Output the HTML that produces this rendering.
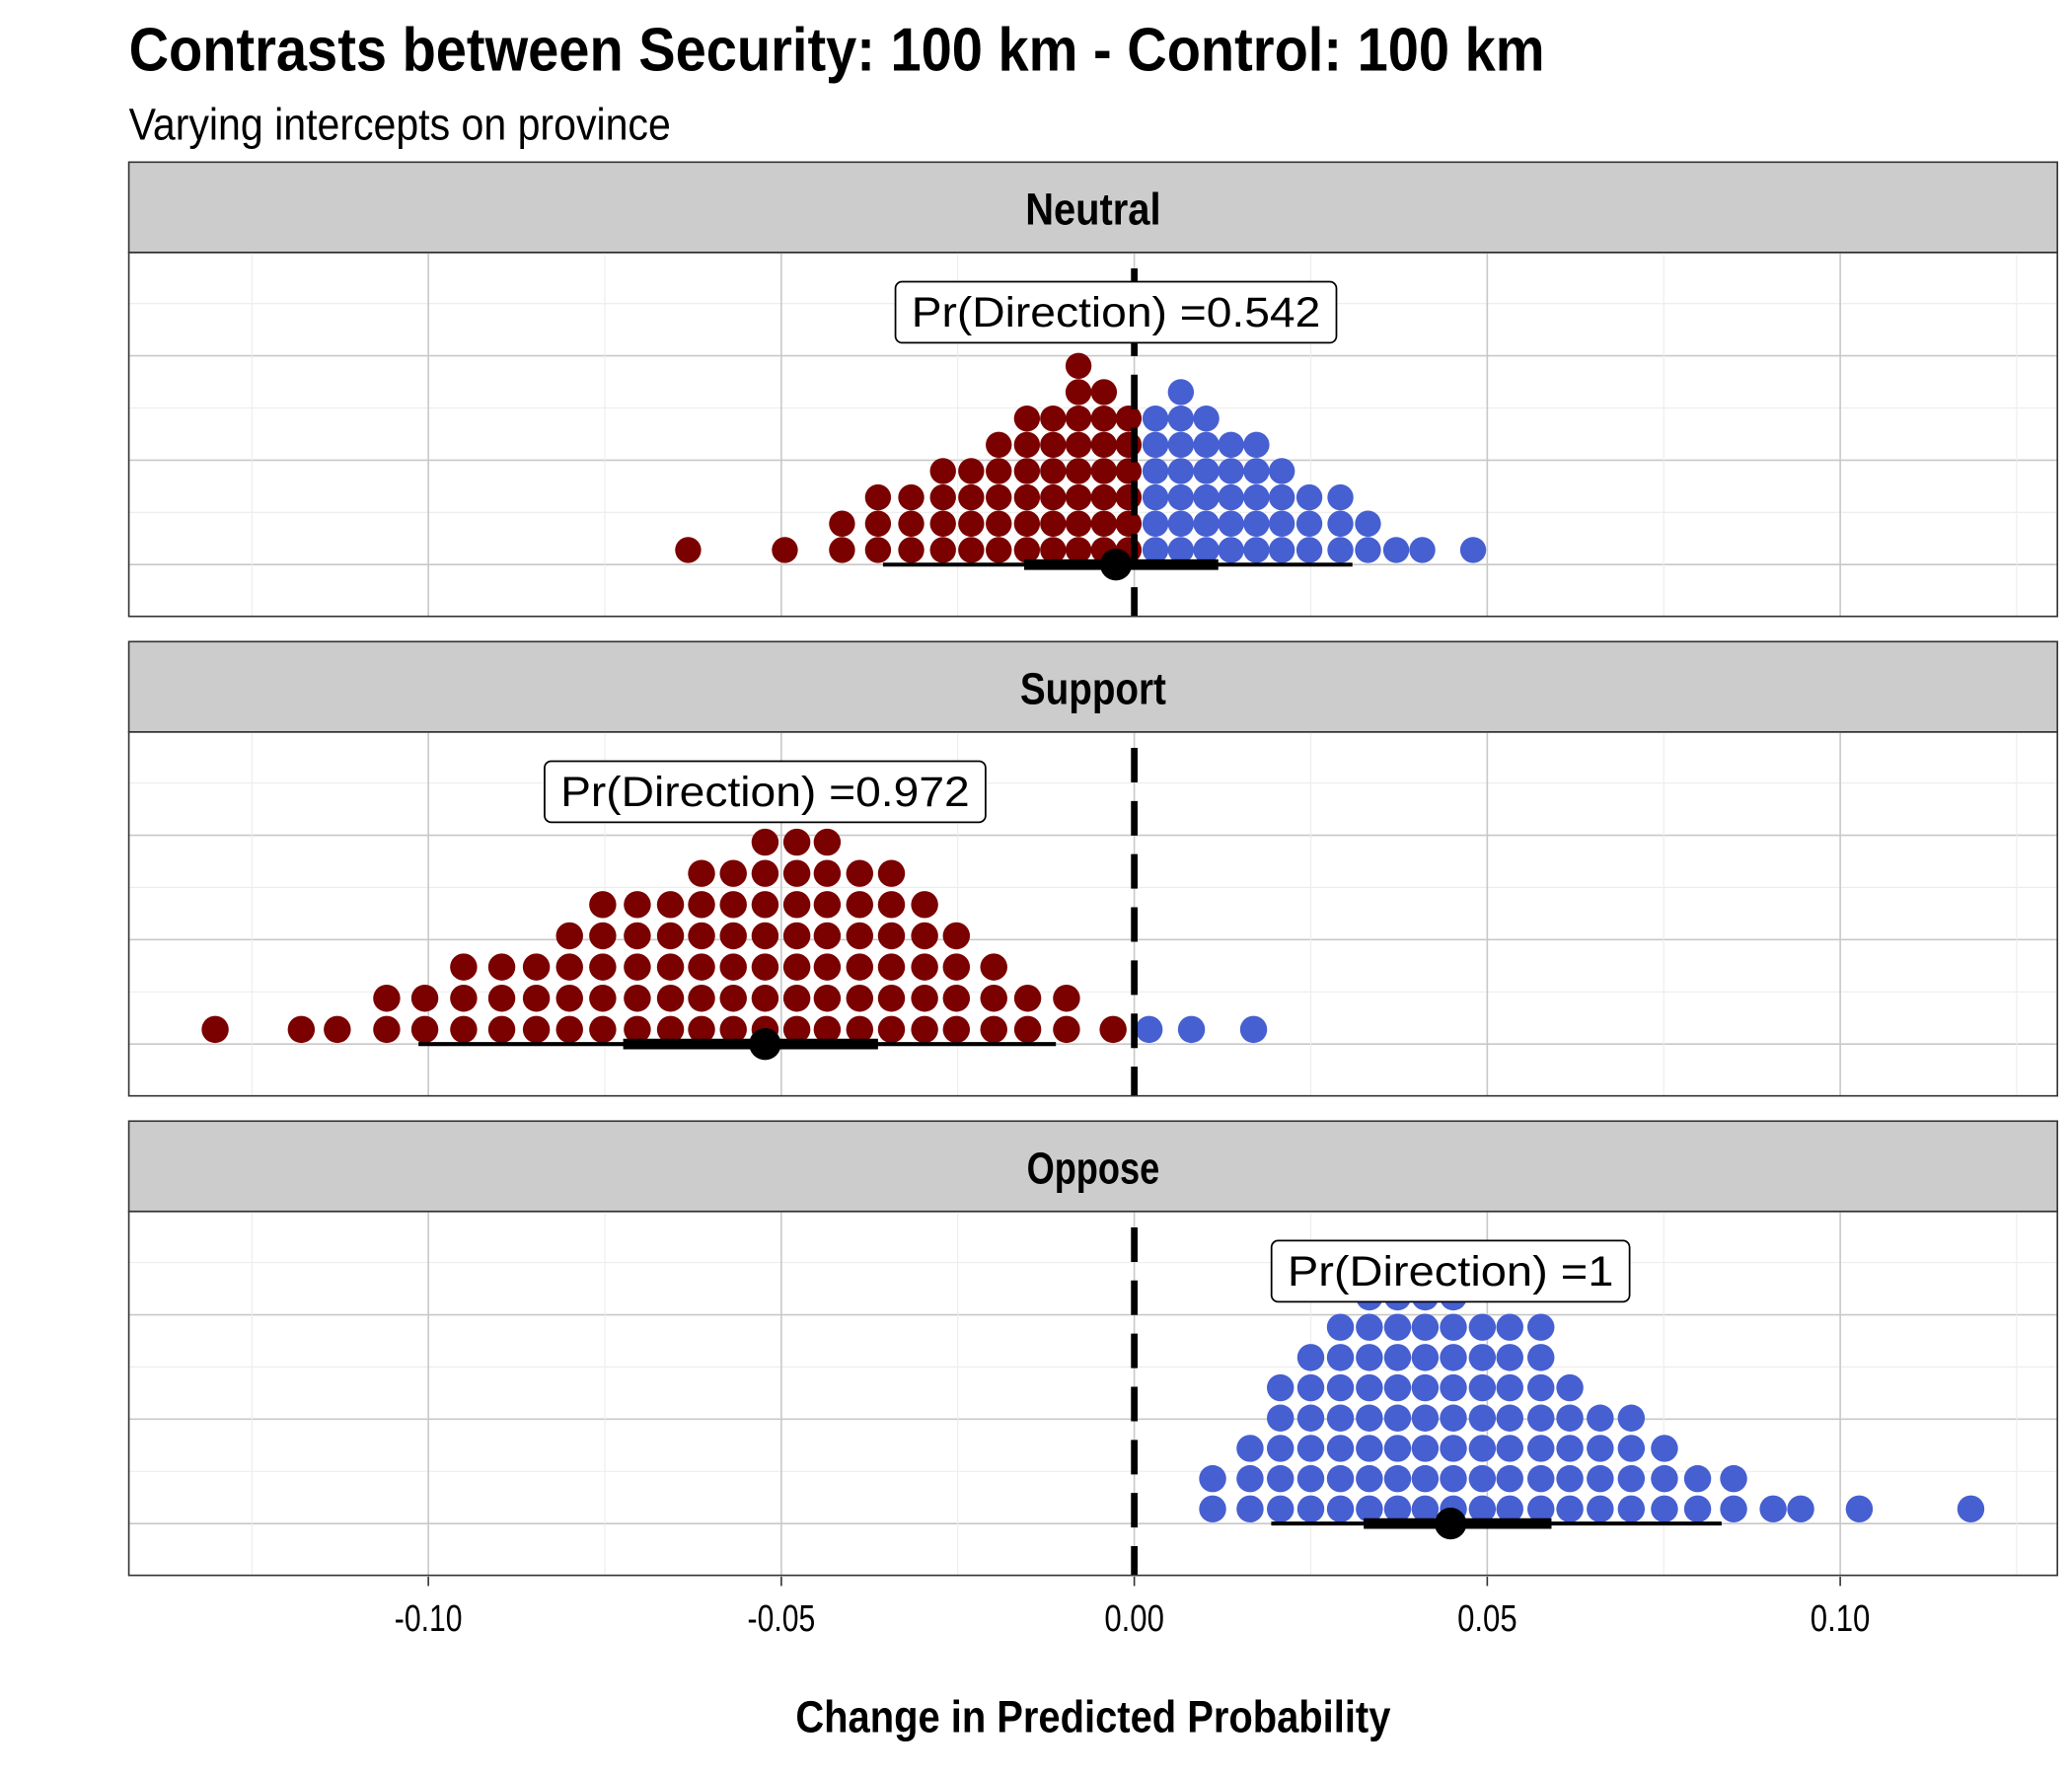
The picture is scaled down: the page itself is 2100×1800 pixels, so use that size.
<!DOCTYPE html>
<html><head><meta charset="utf-8"><style>
html,body{margin:0;padding:0;background:#fff;}
svg{display:block;}
text{font-family:"Liberation Sans",sans-serif;}
</style></head><body>
<svg id="chart" xmlns="http://www.w3.org/2000/svg" width="2100" height="1800" viewBox="0 0 1560 1337">
<rect width="1560" height="1337" fill="#fff"/>
<text x="97" y="53" font-size="46" font-weight="bold" textLength="1066" lengthAdjust="spacingAndGlyphs">Contrasts between Security: 100 km - Control: 100 km</text>
<text x="97" y="105" font-size="34" textLength="408" lengthAdjust="spacingAndGlyphs">Varying intercepts on province</text>
<g id="panels"></g>
<g id="xaxis"></g>
<text x="823" y="1304" text-anchor="middle" font-size="34" font-weight="bold" textLength="448" lengthAdjust="spacingAndGlyphs">Change in Predicted Probability</text>
</svg>
<script>
// ---- data ----
const panelNames = ["Neutral","Support","Oppose"];
const neutralValues = [-0.0632,-0.0495,-0.0414,-0.0363,-0.0316,-0.0271,-0.0231,-0.0192,-0.0152,-0.0115,-0.0079,-0.0043,-0.0008,0.0030,0.0066,0.0102,0.0137,0.0173,0.0209,0.0248,0.0292,0.0331,0.0371,0.0408,0.0480];
const neutralCounts = [1,1,2,3,3,4,4,5,6,6,8,7,6,6,7,6,5,5,4,3,3,2,1,1,1];
const supportValues = [-0.1302,-0.1180,-0.1129,-0.1059,-0.1005,-0.0950,-0.0896,-0.0847,-0.0800,-0.0753,-0.0704,-0.0657,-0.0613,-0.0568,-0.0523,-0.0478,-0.0435,-0.0389,-0.0344,-0.0297,-0.0252,-0.0199,-0.0151,-0.0096,-0.0030,0.0021,0.0081,0.0169];
const supportCounts = [1,1,1,2,2,3,3,3,4,5,5,5,6,6,7,7,7,6,6,5,4,3,2,2,1,1,1,1];
const opposeValues = [0.0111,0.0164,0.0207,0.0250,0.0292,0.0333,0.0373,0.0412,0.0452,0.0493,0.0532,0.0576,0.0617,0.0660,0.0704,0.0751,0.0798,0.0849,0.0905,0.0944,0.1027,0.1185];
const opposeCounts = [2,3,5,6,7,8,8,8,8,7,7,7,5,4,4,3,2,2,1,1,1,1];
const pointEstimates = [-0.0026,-0.0523,0.0448];
const thinLow = [-0.0356,-0.1014,0.0194];
const thinHigh = [0.0309,-0.0111,0.0832];
const thickLow = [-0.0156,-0.0724,0.0325];
const thickHigh = [0.0119,-0.0363,0.0591];
const prDirection = ["0.542","0.972","1"];
const xTicks = [-0.10,-0.05,0.00,0.05,0.10];
const xTickLabels = ["-0.10","-0.05","0.00","0.05","0.10"];
const xMinor = [-0.125,-0.075,-0.025,0.025,0.075,0.125];

// ---- layout ----
const NS="http://www.w3.org/2000/svg";
const L=97,R=1549;
const xs=v=>854+v*5315;
const panelTops=[122,483,844];
const stripH=68, panelH=274;
const rowSpacing=[19.8,23.5,22.8];
const dotR=[9.8,10.2,10.2];
const allValues=[neutralValues,supportValues,opposeValues];
const allCounts=[neutralCounts,supportCounts,opposeCounts];
const stripW=[102,110,100];
function el(tag,attrs,parent){const e=document.createElementNS(NS,tag);for(const k in attrs)e.setAttribute(k,attrs[k]);parent.appendChild(e);return e;}
const panels=document.getElementById('panels');
panelTops.forEach((top,p)=>{
  const g=el('g',{},panels);
  
  
  const strip=el('rect',{x:L,y:top,width:R-L,height:stripH,fill:'#cccccc',stroke:'#333','stroke-width':1.2},g);
  
  
  const st=el('text',{x:823,y:top+47,'text-anchor':'middle','font-size':34,'font-weight':'bold',textLength:stripW[p],lengthAdjust:'spacingAndGlyphs'},g);
  st.textContent=panelNames[p];
  
  
  const py=top+stripH, pb=py+panelH;
  const base=pb-39;
  for(let i=0;i<7;i++){const y=base-i*39.3;if(y<=py)break;
    el('line',{x1:L,x2:R,y1:y,y2:y,stroke:i%2==0?'#c8c8c8':'#ececec','stroke-width':i%2==0?1.2:0.8},g);}
  xMinor.forEach(v=>el('line',{x1:xs(v),x2:xs(v),y1:py,y2:pb,stroke:'#ececec','stroke-width':0.8},g));
  xTicks.forEach(v=>el('line',{x1:xs(v),x2:xs(v),y1:py,y2:pb,stroke:'#c8c8c8','stroke-width':1.2},g));
  const vals=allValues[p],cnt=allCounts[p],bottom=base-11;
  vals.forEach((v,i)=>{for(let k=0;k<cnt[i];k++){
    const c=el('circle',{cx:xs(v),cy:bottom-k*rowSpacing[p],r:dotR[p],fill:v<0?'#7b0000':'#465fd1'},g);
    
    
  }});
  const z=el('line',{x1:xs(0),x2:xs(0),y1:py+12,y2:pb,stroke:'#000','stroke-width':5,'stroke-dasharray':'26 14'},g);
  
  
  el('line',{x1:xs(thinLow[p]),x2:xs(thinHigh[p]),y1:base,y2:base,stroke:'#000','stroke-width':3},g);
  el('line',{x1:xs(thickLow[p]),x2:xs(thickHigh[p]),y1:base,y2:base,stroke:'#000','stroke-width':8},g);
  const pt=el('circle',{cx:xs(pointEstimates[p]),cy:base,r:12,fill:'#000'},g);
  
  
  const txt='Pr(Direction) ='+prDirection[p];
  const tw=txt.length*15.6;
  const w=tw+20;
  const cx=xs(pointEstimates[p]);
  const lb=el('rect',{x:cx-w/2,y:py+22,width:w,height:46,rx:5,fill:'#fff',stroke:'#000','stroke-width':1.3},g);
  
  
  const lt=el('text',{x:cx,y:py+56,'text-anchor':'middle','font-size':32,textLength:tw-4,lengthAdjust:'spacingAndGlyphs'},g);
  lt.textContent=txt;
  
  
  el('rect',{x:L,y:py,width:R-L,height:panelH,fill:'none',stroke:'#333','stroke-width':1.2},g);
});
const ax=document.getElementById('xaxis');
xTicks.forEach((v,i)=>{
  el('line',{x1:xs(v),x2:xs(v),y1:1187,y2:1194,stroke:'#333','stroke-width':1.2},ax);
  const t=el('text',{x:xs(v),y:1228,'text-anchor':'middle','font-size':28,textLength:v<0?51:45,lengthAdjust:'spacingAndGlyphs'},ax);
  t.textContent=xTickLabels[i];
  
  
});
</script>
</body></html>
